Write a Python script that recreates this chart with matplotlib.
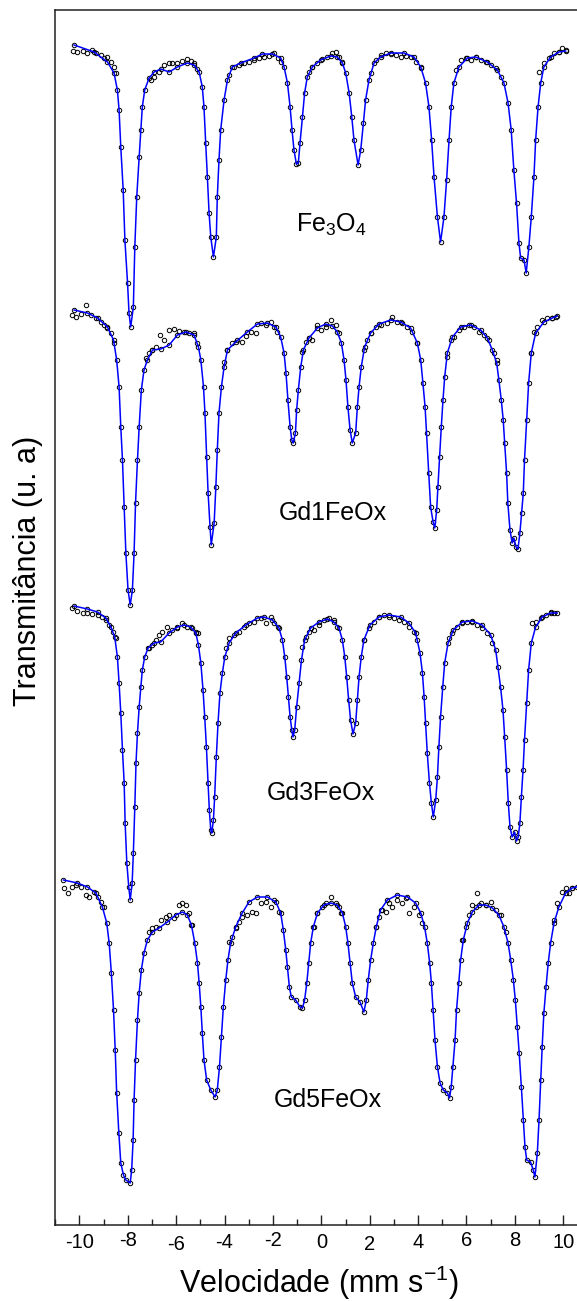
import matplotlib
matplotlib.use("Agg")
import matplotlib.pyplot as plt
import matplotlib.transforms as mtransforms
from matplotlib.ticker import MultipleLocator

plt.rcParams['font.family'] = ['Liberation Sans', 'DejaVu Sans']
plt.rcParams['mathtext.fontset'] = 'custom'
plt.rcParams['mathtext.rm'] = 'Liberation Sans'
plt.rcParams['mathtext.it'] = 'Liberation Sans:italic'

# ---------------- data (velocity in mm/s, relative transmission) ----------------
labels = ["Fe$_3$O$_4$", "Gd1FeOx", "Gd3FeOx", "Gd5FeOx"]

# fitted curves
v_fe3o4 = [-10.22, -9.39, -8.84, -8.57, -8.43, -8.36, -8.29, -8.19, -8.12, -8.01, -7.95, -7.88,
           -7.77, -7.71, -7.63, -7.53, -7.46, -7.40, -7.30, -7.12, -6.91, -6.64, -6.29, -5.95,
           -5.54, -5.26, -5.05, -4.92, -4.85, -4.78, -4.71, -4.64, -4.57, -4.46, -4.34, -4.30,
           -4.23, -4.16, -4.02, -3.88, -3.68, -3.33, -2.78, -2.44, -2.02, -1.68, -1.54, -1.40,
           -1.29, -1.21, -1.13, -1.03, -0.95, -0.88, -0.78, -0.69, -0.58, -0.37, -0.03, 0.39,
           0.66, 0.87, 1.01, 1.15, 1.26, 1.35, 1.52, 1.63, 1.74, 1.83, 1.97, 2.18, 2.45, 2.87,
           3.42, 3.83, 4.11, 4.31, 4.45, 4.56, 4.66, 4.80, 4.93, 5.07, 5.18, 5.28, 5.37, 5.48,
           5.69, 6.04, 6.38, 6.86, 7.28, 7.55, 7.72, 7.85, 7.96, 8.07, 8.17, 8.24, 8.38, 8.47,
           8.58, 8.68, 8.79, 8.86, 8.96, 9.07, 9.20, 9.48, 9.82, 10.10]
t_fe3o4 = [1.000, 0.993, 0.983, 0.972, 0.955, 0.935, 0.898, 0.855, 0.805, 0.762, 0.732, 0.718,
           0.738, 0.798, 0.848, 0.888, 0.915, 0.938, 0.955, 0.967, 0.973, 0.976, 0.973, 0.978,
           0.982, 0.980, 0.973, 0.958, 0.938, 0.902, 0.868, 0.832, 0.808, 0.788, 0.808, 0.848,
           0.885, 0.915, 0.945, 0.965, 0.978, 0.982, 0.987, 0.991, 0.991, 0.987, 0.978, 0.962,
           0.938, 0.915, 0.895, 0.881, 0.882, 0.902, 0.928, 0.952, 0.968, 0.978, 0.985, 0.989,
           0.988, 0.982, 0.972, 0.952, 0.928, 0.905, 0.880, 0.895, 0.922, 0.945, 0.965, 0.982,
           0.988, 0.992, 0.992, 0.988, 0.978, 0.962, 0.938, 0.905, 0.868, 0.828, 0.803, 0.828,
           0.865, 0.905, 0.938, 0.962, 0.978, 0.987, 0.988, 0.983, 0.975, 0.962, 0.942, 0.915,
           0.875, 0.842, 0.802, 0.787, 0.785, 0.772, 0.798, 0.828, 0.868, 0.905, 0.938, 0.962,
           0.978, 0.988, 0.993, 0.994]

v_gd1 = [-10.22, -9.67, -9.25, -8.84, -8.59, -8.46, -8.36, -8.29, -8.22, -8.15, -8.08, -7.99,
         -7.90, -7.81, -7.74, -7.68, -7.60, -7.53, -7.44, -7.33, -7.19, -6.98, -6.64, -6.29,
         -5.95, -5.60, -5.26, -5.08, -4.98, -4.87, -4.81, -4.74, -4.68, -4.60, -4.55, -4.43,
         -4.36, -4.30, -4.23, -4.13, -4.02, -3.88, -3.54, -3.06, -2.64, -2.23, -1.88, -1.68,
         -1.54, -1.46, -1.38, -1.29, -1.22, -1.16, -1.07, -1.02, -0.95, -0.85, -0.74, -0.51,
         -0.16, 0.18, 0.46, 0.66, 0.83, 0.94, 1.02, 1.10, 1.19, 1.28, 1.42, 1.49, 1.56, 1.65,
         1.79, 2.04, 2.38, 2.87, 3.28, 3.69, 3.97, 4.11, 4.20, 4.29, 4.35, 4.44, 4.52, 4.62,
         4.69, 4.77, 4.82, 4.89, 4.96, 5.03, 5.10, 5.21, 5.42, 5.76, 6.17, 6.59, 6.86, 7.07,
         7.25, 7.34, 7.44, 7.52, 7.58, 7.66, 7.71, 7.80, 7.89, 7.96, 8.05, 8.13, 8.21, 8.28,
         8.35, 8.40, 8.49, 8.57, 8.68, 8.86, 9.20, 9.55, 9.75]
t_gd1 = [1.000, 0.997, 0.992, 0.983, 0.970, 0.950, 0.923, 0.883, 0.850, 0.803, 0.757, 0.720,
         0.705, 0.720, 0.757, 0.807, 0.850, 0.883, 0.920, 0.940, 0.950, 0.960, 0.961, 0.965,
         0.975, 0.978, 0.975, 0.963, 0.950, 0.923, 0.897, 0.853, 0.817, 0.783, 0.765, 0.787,
         0.823, 0.860, 0.897, 0.923, 0.943, 0.960, 0.968, 0.978, 0.986, 0.987, 0.983, 0.973,
         0.957, 0.937, 0.910, 0.883, 0.870, 0.867, 0.877, 0.900, 0.920, 0.943, 0.960, 0.972,
         0.982, 0.986, 0.984, 0.978, 0.967, 0.950, 0.930, 0.903, 0.880, 0.867, 0.877, 0.903,
         0.923, 0.943, 0.963, 0.977, 0.986, 0.990, 0.988, 0.982, 0.967, 0.950, 0.927, 0.903,
         0.877, 0.837, 0.803, 0.788, 0.782, 0.800, 0.823, 0.853, 0.883, 0.910, 0.933, 0.957,
         0.973, 0.983, 0.985, 0.980, 0.972, 0.960, 0.947, 0.930, 0.910, 0.890, 0.867, 0.837,
         0.807, 0.780, 0.767, 0.772, 0.763, 0.761, 0.777, 0.797, 0.817, 0.850, 0.890, 0.927,
         0.957, 0.977, 0.988, 0.992, 0.994]

v_gd3 = [-10.22, -9.67, -9.25, -8.91, -8.70, -8.54, -8.43, -8.36, -8.29, -8.22, -8.15, -8.11,
         -8.04, -7.96, -7.90, -7.82, -7.77, -7.71, -7.66, -7.60, -7.53, -7.46, -7.40, -7.30,
         -7.16, -6.91, -6.64, -6.29, -5.95, -5.67, -5.40, -5.19, -5.08, -4.98, -4.89, -4.82,
         -4.75, -4.68, -4.63, -4.57, -4.53, -4.46, -4.41, -4.34, -4.27, -4.19, -4.09, -3.99,
         -3.81, -3.54, -3.12, -2.64, -2.37, -2.02, -1.75, -1.61, -1.51, -1.43, -1.36, -1.29,
         -1.22, -1.17, -1.10, -1.02, -0.92, -0.82, -0.69, -0.44, -0.10, 0.25, 0.52, 0.73,
         0.87, 0.97, 1.05, 1.13, 1.21, 1.31, 1.42, 1.49, 1.56, 1.65, 1.76, 2.01, 2.38, 2.80,
         3.28, 3.62, 3.90, 4.08, 4.18, 4.25, 4.31, 4.38, 4.47, 4.55, 4.63, 4.73, 4.80, 4.86,
         4.93, 5.02, 5.10, 5.24, 5.46, 5.83, 6.24, 6.65, 7.00, 7.21, 7.30, 7.41, 7.51, 7.58,
         7.66, 7.73, 7.80, 7.89, 7.99, 8.07, 8.14, 8.21, 8.27, 8.34, 8.40, 8.49, 8.57, 8.68,
         8.86, 9.13, 9.48, 9.75]
t_gd3 = [1.000, 0.997, 0.994, 0.988, 0.979, 0.969, 0.949, 0.923, 0.893, 0.856, 0.823, 0.783,
         0.743, 0.719, 0.706, 0.723, 0.753, 0.799, 0.843, 0.873, 0.899, 0.919, 0.936, 0.949,
         0.958, 0.963, 0.964, 0.973, 0.979, 0.981, 0.979, 0.973, 0.961, 0.943, 0.916, 0.889,
         0.859, 0.823, 0.796, 0.776, 0.773, 0.786, 0.809, 0.849, 0.883, 0.913, 0.933, 0.949,
         0.963, 0.973, 0.981, 0.988, 0.989, 0.986, 0.978, 0.966, 0.949, 0.929, 0.909, 0.889,
         0.876, 0.869, 0.876, 0.899, 0.923, 0.946, 0.966, 0.978, 0.984, 0.987, 0.984, 0.978,
         0.966, 0.949, 0.929, 0.906, 0.886, 0.872, 0.883, 0.906, 0.929, 0.949, 0.966, 0.981,
         0.989, 0.991, 0.989, 0.983, 0.973, 0.953, 0.933, 0.909, 0.883, 0.853, 0.823, 0.803,
         0.789, 0.806, 0.829, 0.859, 0.889, 0.919, 0.943, 0.963, 0.976, 0.984, 0.985, 0.981,
         0.971, 0.956, 0.939, 0.919, 0.896, 0.869, 0.836, 0.803, 0.779, 0.769, 0.774, 0.765,
         0.769, 0.783, 0.809, 0.836, 0.866, 0.903, 0.936, 0.963, 0.979, 0.989, 0.993, 0.993]

v_gd5 = [-10.66, -10.08, -9.67, -9.32, -9.05, -8.87, -8.77, -8.68, -8.59, -8.52, -8.46, -8.37,
         -8.29, -8.18, -8.08, -7.90, -7.84, -7.78, -7.74, -7.68, -7.60, -7.53, -7.44, -7.33,
         -7.19, -6.98, -6.71, -6.36, -6.02, -5.74, -5.54, -5.37, -5.23, -5.12, -5.05, -4.98,
         -4.92, -4.85, -4.74, -4.57, -4.39, -4.30, -4.21, -4.13, -4.05, -3.95, -3.86, -3.75,
         -3.54, -3.27, -2.99, -2.64, -2.23, -1.88, -1.68, -1.57, -1.47, -1.40, -1.32, -1.24,
         -1.06, -0.88, -0.78, -0.69, -0.60, -0.52, -0.44, -0.33, -0.16, 0.11, 0.39, 0.66,
         0.87, 1.01, 1.10, 1.19, 1.28, 1.42, 1.60, 1.76, 1.86, 1.94, 2.04, 2.15, 2.27, 2.45,
         2.73, 3.14, 3.56, 3.90, 4.11, 4.27, 4.38, 4.48, 4.55, 4.62, 4.70, 4.80, 4.91, 5.04,
         5.21, 5.30, 5.37, 5.44, 5.53, 5.59, 5.68, 5.76, 5.87, 6.04, 6.24, 6.52, 6.79, 7.07,
         7.34, 7.55, 7.72, 7.83, 7.94, 8.02, 8.10, 8.18, 8.27, 8.35, 8.42, 8.49, 8.65, 8.76,
         8.83, 8.93, 9.00, 9.07, 9.13, 9.20, 9.29, 9.38, 9.48, 9.62, 9.82, 10.10, 10.37,
         10.55, 10.90]
t_gd5 = [1.000, 0.997, 0.993, 0.987, 0.973, 0.957, 0.937, 0.907, 0.870, 0.830, 0.787, 0.747,
         0.717, 0.705, 0.700, 0.697, 0.710, 0.740, 0.780, 0.820, 0.860, 0.887, 0.910, 0.927,
         0.940, 0.948, 0.952, 0.958, 0.965, 0.968, 0.965, 0.955, 0.937, 0.917, 0.897, 0.873,
         0.847, 0.820, 0.800, 0.790, 0.783, 0.790, 0.813, 0.843, 0.873, 0.900, 0.920, 0.937,
         0.953, 0.967, 0.978, 0.983, 0.983, 0.978, 0.967, 0.950, 0.930, 0.913, 0.893, 0.883,
         0.880, 0.873, 0.872, 0.880, 0.897, 0.917, 0.937, 0.953, 0.967, 0.975, 0.977, 0.975,
         0.967, 0.953, 0.937, 0.917, 0.897, 0.883, 0.878, 0.868, 0.880, 0.900, 0.920, 0.937,
         0.953, 0.970, 0.980, 0.985, 0.983, 0.977, 0.967, 0.953, 0.937, 0.917, 0.897, 0.870,
         0.840, 0.813, 0.797, 0.790, 0.787, 0.782, 0.793, 0.813, 0.840, 0.870, 0.897, 0.920,
         0.940, 0.957, 0.968, 0.975, 0.975, 0.972, 0.965, 0.953, 0.937, 0.920, 0.900, 0.880,
         0.853, 0.827, 0.793, 0.760, 0.733, 0.720, 0.718, 0.710, 0.703, 0.727, 0.760, 0.800,
         0.833, 0.867, 0.893, 0.917, 0.937, 0.957, 0.973, 0.987, 0.992, 0.993, 0.995]

pv_fe3o4 = [-10.25, -10.08, -9.87, -9.67, -9.50, -9.33, -9.12, -8.98, -8.84, -8.70, -8.59, -8.50,
            -7.05, -6.91, -6.71, -6.50, -6.29, -6.16, -5.95, -5.74, -5.54, -5.40, -5.26, -5.15,
            -3.81, -3.61, -3.40, -3.19, -2.99, -2.78, -2.57, -2.37, -2.16, -1.95, -1.79, -1.65,
            -0.51, -0.37, -0.16, 0.04, 0.25, 0.46, 0.59, 0.73, 0.87,
            2.04, 2.25, 2.45, 2.66, 2.87, 3.07, 3.28, 3.49, 3.69, 3.90, 4.11,
            5.55, 5.76, 5.97, 6.17, 6.38, 6.59, 6.79, 7.00, 7.21, 7.41,
            9.00, 9.20, 9.41, 9.62, 9.82, 9.96, 10.10]
pt_fe3o4 = [0.994, 0.993, 0.994, 0.992, 0.995, 0.992, 0.990, 0.987, 0.988, 0.983, 0.978, 0.972,
            0.965, 0.968, 0.973, 0.980, 0.982, 0.982, 0.982, 0.984, 0.986, 0.984, 0.982, 0.976,
            0.970, 0.978, 0.980, 0.982, 0.983, 0.985, 0.987, 0.988, 0.989, 0.992, 0.987, 0.983,
            0.973, 0.978, 0.982, 0.986, 0.988, 0.992, 0.993, 0.988, 0.983,
            0.972, 0.985, 0.990, 0.992, 0.991, 0.990, 0.988, 0.989, 0.988, 0.983, 0.977,
            0.975, 0.985, 0.987, 0.985, 0.988, 0.985, 0.983, 0.980, 0.977, 0.968,
            0.973, 0.982, 0.987, 0.992, 0.993, 0.997, 0.995]

pv_gd1 = [-10.29, -10.15, -9.94, -9.71, -9.53, -9.32, -9.12, -8.98, -8.84, -8.70, -8.57,
          -7.26, -7.12, -6.98, -6.84, -6.66, -6.50, -6.29, -6.09, -5.88, -5.67, -5.47, -5.26, -5.12,
          -4.02, -3.88, -3.68, -3.47, -3.26, -3.12, -2.92, -2.71, -2.50, -2.30, -2.09, -1.95, -1.82,
          -0.78, -0.65, -0.51, -0.37, -0.16, -0.03, 0.18, 0.39, 0.59, 0.73,
          1.76, 1.90, 2.04, 2.25, 2.45, 2.73, 2.94, 3.14, 3.35, 3.56, 3.76, 3.97,
          5.21, 5.35, 5.48, 5.69, 5.90, 6.10, 6.31, 6.52, 6.72, 6.93, 7.14, 7.27,
          8.65, 8.79, 8.93, 9.13, 9.34, 9.55, 9.69]
pt_gd1 = [0.995, 0.993, 0.996, 1.005, 0.995, 0.992, 0.988, 0.985, 0.982, 0.977, 0.967,
          0.952, 0.957, 0.960, 0.963, 0.975, 0.970, 0.980, 0.981, 0.979, 0.978, 0.977, 0.977, 0.967,
          0.948, 0.960, 0.967, 0.970, 0.968, 0.974, 0.978, 0.977, 0.987, 0.985, 0.988, 0.983, 0.978,
          0.958, 0.968, 0.972, 0.970, 0.985, 0.980, 0.983, 0.990, 0.985, 0.977,
          0.960, 0.970, 0.977, 0.983, 0.985, 0.987, 0.993, 0.988, 0.987, 0.983, 0.978, 0.967,
          0.953, 0.970, 0.973, 0.980, 0.983, 0.985, 0.983, 0.978, 0.975, 0.970, 0.957, 0.950,
          0.957, 0.978, 0.983, 0.990, 0.992, 0.992, 0.993]

pv_gd3 = [-10.29, -10.08, -9.87, -9.67, -9.46, -9.25, -9.05, -8.91, -8.77, -8.63, -8.50,
          -7.12, -6.98, -6.84, -6.71, -6.57, -6.36, -6.16, -5.95, -5.74, -5.54, -5.33, -5.19, -5.10,
          -3.95, -3.81, -3.61, -3.40, -3.19, -2.99, -2.78, -2.50, -2.30, -2.09, -1.95, -1.79,
          -0.78, -0.65, -0.51, -0.30, -0.10, 0.11, 0.32, 0.52, 0.66,
          1.76, 1.97, 2.18, 2.38, 2.59, 2.80, 3.00, 3.21, 3.42, 3.62, 3.83, 3.97,
          5.28, 5.42, 5.62, 5.83, 6.04, 6.24, 6.45, 6.65, 6.86, 7.07,
          8.72, 8.86, 9.07, 9.27, 9.48, 9.62]
pt_gd3 = [0.998, 0.995, 0.993, 0.993, 0.992, 0.991, 0.989, 0.986, 0.981, 0.974, 0.968,
          0.958, 0.961, 0.966, 0.971, 0.974, 0.979, 0.976, 0.978, 0.983, 0.979, 0.978, 0.974, 0.973,
          0.958, 0.968, 0.971, 0.974, 0.979, 0.983, 0.984, 0.988, 0.983, 0.989, 0.983, 0.979,
          0.959, 0.969, 0.974, 0.976, 0.981, 0.986, 0.988, 0.986, 0.979,
          0.966, 0.978, 0.984, 0.989, 0.991, 0.989, 0.988, 0.986, 0.984, 0.979, 0.974, 0.966,
          0.968, 0.973, 0.979, 0.983, 0.984, 0.984, 0.981, 0.978, 0.973, 0.963,
          0.983, 0.984, 0.988, 0.991, 0.994, 0.993]

pv_gd5 = [-10.63, -10.49, -10.29, -10.15, -9.94, -9.74, -9.60, -9.39, -9.25, -9.12, -8.98,
          -7.12, -6.98, -6.84, -6.64, -6.43, -6.29, -6.09, -5.88, -5.74, -5.60, -5.47, -5.33,
          -3.81, -3.68, -3.54, -3.40, -3.27, -3.06, -2.85, -2.71, -2.50, -2.30, -2.09, -1.95, -1.75,
          -0.30, -0.16, 0.04, 0.18, 0.39, 0.59, 0.73, 0.83,
          2.25, 2.38, 2.52, 2.66, 2.80, 2.94, 3.14, 3.35, 3.49, 3.62, 3.83, 4.04, 4.18,
          5.83, 5.97, 6.10, 6.24, 6.38, 6.45, 6.59, 6.79, 7.00, 7.21, 7.41, 7.62,
          9.62, 9.75, 9.96, 10.10, 10.24, 10.37]
pt_gd5 = [0.992, 0.987, 0.993, 0.995, 0.993, 0.985, 0.983, 0.988, 0.983, 0.978, 0.973,
          0.948, 0.952, 0.953, 0.960, 0.963, 0.965, 0.962, 0.975, 0.977, 0.975, 0.967, 0.955,
          0.938, 0.943, 0.952, 0.958, 0.963, 0.965, 0.968, 0.967, 0.977, 0.978, 0.973, 0.980, 0.968,
          0.953, 0.967, 0.973, 0.977, 0.983, 0.977, 0.973, 0.967,
          0.953, 0.963, 0.970, 0.968, 0.977, 0.973, 0.980, 0.977, 0.982, 0.967, 0.973, 0.965, 0.957,
          0.940, 0.953, 0.965, 0.975, 0.973, 0.987, 0.977, 0.975, 0.978, 0.970, 0.965, 0.948,
          0.960, 0.977, 0.988, 0.992, 0.987, 0.992]

fit_v = [v_fe3o4, v_gd1, v_gd3, v_gd5]
fit_t = [t_fe3o4, t_gd1, t_gd3, t_gd5]
pts_v = [pv_fe3o4, pv_gd1, pv_gd3, pv_gd5]
pts_t = [pt_fe3o4, pt_gd1, pt_gd3, pt_gd5]

x_major_ticks = [-10, -8, -6, -4, -2, 0, 2, 4, 6, 8, 10]

# ---------------- layout ----------------
W, H = 577, 1301
fig = plt.figure(figsize=(W / 100, H / 100), dpi=100)
ax_left, ax_top, ax_bottom = 54.5, 10, 1224.7
ax = fig.add_axes([ax_left / W, 1 - ax_bottom / H, 1 - ax_left / W, (ax_bottom - ax_top) / H])

offsets = [0.1797, -0.0853, -0.3813, -0.6553]
label_pos = [(331, 225), (333, 513), (321, 793), (328, 1100)]

mk = dict(ls='none', marker='o', ms=3.2, mfc='none', mec='black', mew=0.7, zorder=2)
for i in range(4):
    off = offsets[i]
    yf = [t + off for t in fit_t[i]]
    yp = [t + off for t in pts_t[i]]
    ax.plot(fit_v[i], yf, **mk)
    ax.plot(pts_v[i], yp, **mk)
    ax.plot(fit_v[i], yf, color='#0000ff', lw=1.1, zorder=3)
    lx, ly = label_pos[i]
    fig.text(lx / W, 1 - ly / H, labels[i], fontsize=18, ha='center', va='center', color='black')

ax.set_xlim(-11.03, 10.57)
ax.set_ylim(0, 1.2147)
ax.set_yticks([])
ax.set_xticks(x_major_ticks)
ax.set_xticklabels([str(t) for t in x_major_ticks])
ax.xaxis.set_minor_locator(MultipleLocator(1))
ax.tick_params(axis='x', which='major', direction='in', length=7.5, width=1.0,
               labelsize=14.5, pad=6, colors='#222222', labelcolor='black')
ax.tick_params(axis='x', which='minor', direction='in', length=4.5, width=1.0, colors='#222222')
ax.tick_params(axis='x', top=False)
# slight vertical jitter of the tick labels as in the original figure
label_shift_px = [0, -2, 2, 0, -2, 0, 2, 0, -2, -2, 0]
for lab, dy in zip(ax.get_xticklabels(), label_shift_px):
    lab.set_transform(lab.get_transform() +
                      mtransforms.ScaledTranslation(0, -dy / 100, fig.dpi_scale_trans))
for s in ['left', 'top', 'bottom']:
    ax.spines[s].set_linewidth(1.1)
    ax.spines[s].set_color('#222222')
ax.spines['right'].set_visible(False)

fig.text(319 / W, 1 - 1283 / H, "Velocidade (mm s$^{-1}$)", fontsize=22, ha='center', va='center')
fig.text(28 / W, 1 - 571 / H, "Transmitância (u. a)", fontsize=22, ha='center', va='center',
         rotation=90)

fig.savefig("out.png", dpi=100)
